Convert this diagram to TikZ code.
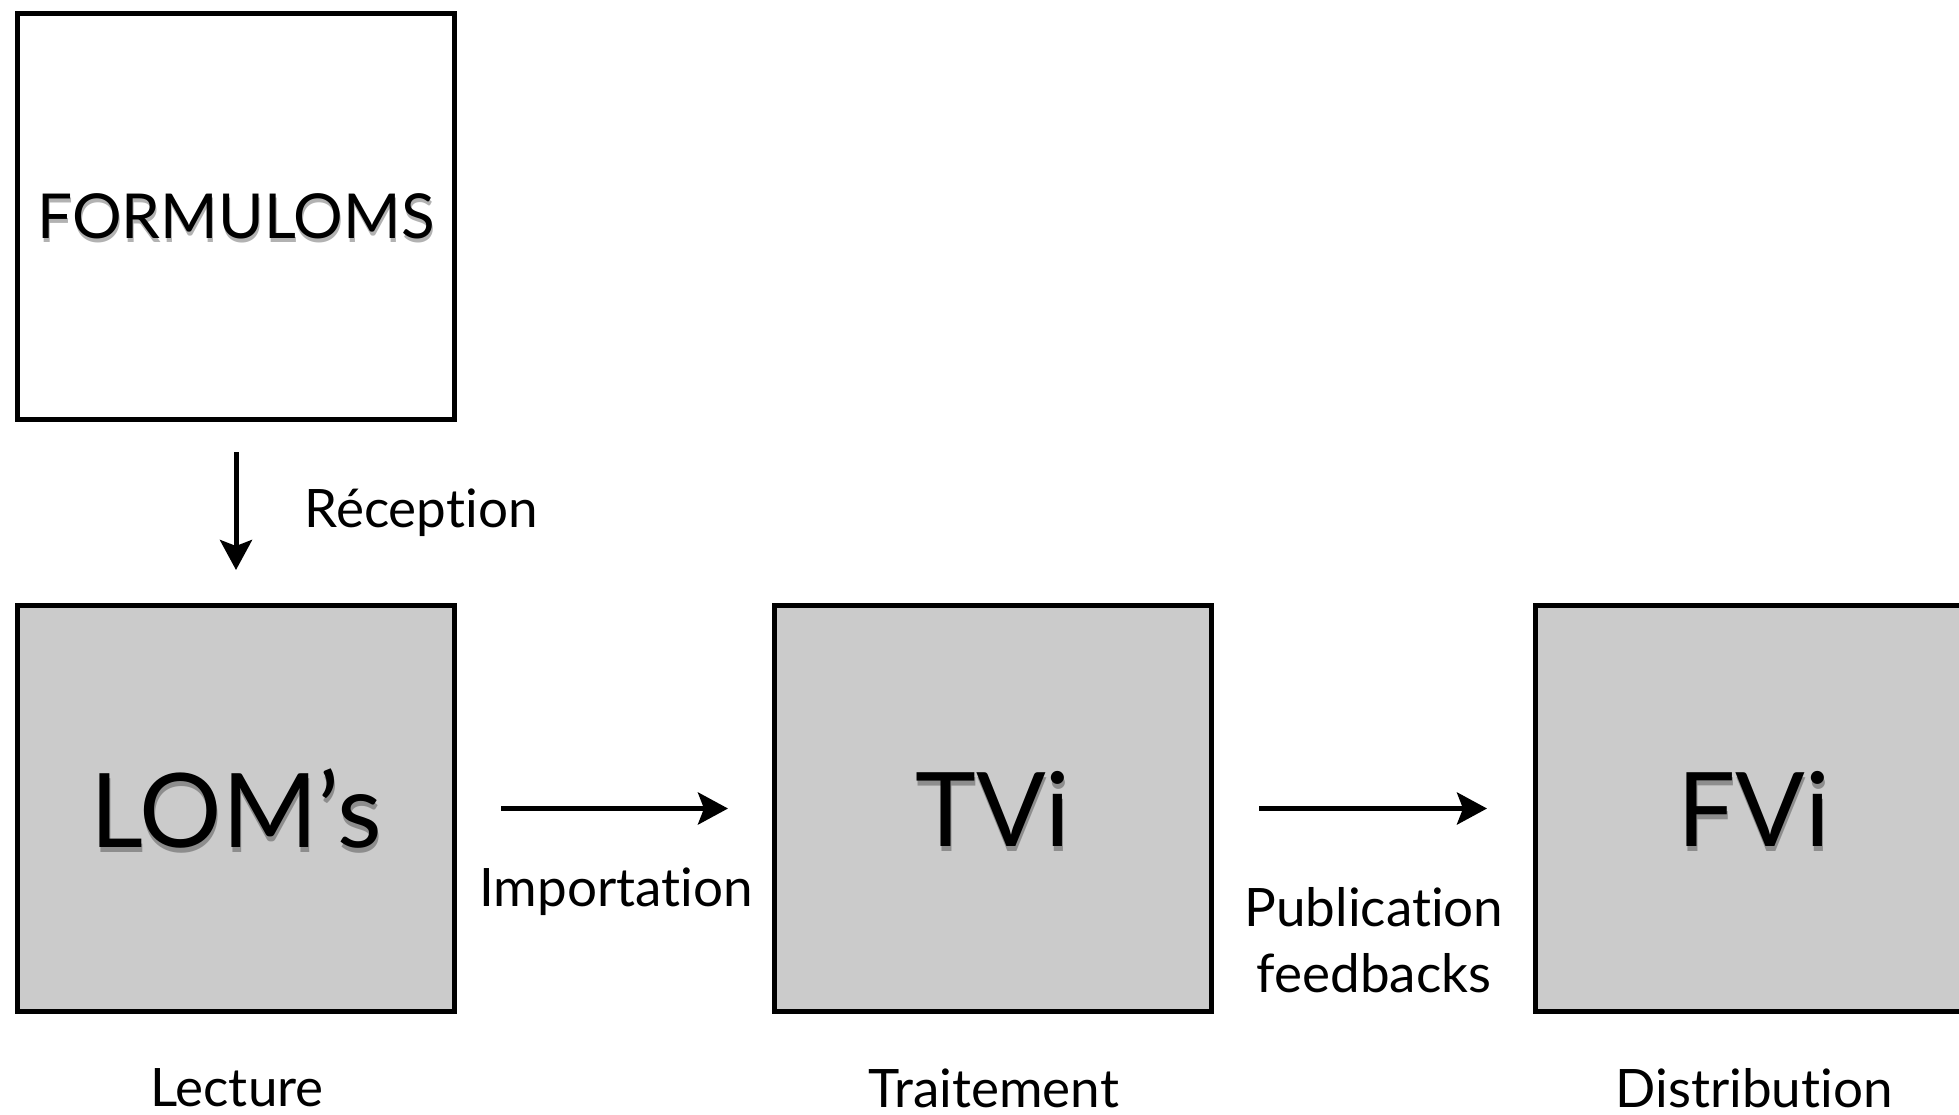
\documentclass[tikz,border=0pt]{standalone}
\usepackage{fontspec}
\setmainfont{Lato}[Ligatures={NoCommon}]
\usetikzlibrary{arrows.meta,calc}
\definecolor{boxgray}{RGB}{203,203,203}
\begin{document}
\begin{tikzpicture}[x=1pt,y=-1pt,
  box/.style={draw=black, line width=5pt, minimum width=437pt, minimum height=406pt, inner sep=0pt},
  graybox/.style={box, fill=boxgray},
  bigtxt/.style={font=\fontsize{103}{110}\selectfont, inner sep=0pt},
  midtxt/.style={font=\fontsize{62}{70}\selectfont, inner sep=0pt},
  lbl/.style={font=\fontsize{53}{66}\selectfont, inner sep=0pt, align=center},
  arr/.style={line width=5pt, -{Stealth[length=30pt,width=32pt,inset=6pt]}},
  shd/.style={text=black, opacity=0.3}
]
\useasboundingbox (0,0) rectangle (1959,1115);
% boxes
\node[box, fill=white] (form) at (236,216.5) {};
\node[graybox] (lom) at (236,808.5) {};
\node[graybox] (tvi) at (993,808.5) {};
\node[graybox] (fvi) at (1754,808.5) {};
% soft shadows of the box labels
\node[midtxt, shd] (sform) at ([shift={(1pt,-4pt)}]form.center) {FORMULOMS};
\node[bigtxt, shd] (slom) at ([shift={(1pt,-5pt)}]lom.center) {LOM’s};
\node[bigtxt, shd] (stvi) at ([shift={(1pt,-5pt)}]tvi.center) {TVi};
\node[bigtxt, shd] (sfvi) at ([shift={(1pt,-5pt)}]fvi.center) {FVi};
% box labels
\node[midtxt] (formt) at (form.center) {FORMULOMS};
\node[bigtxt] (lomt) at (lom.center) {LOM’s};
\node[bigtxt] (tvit) at (tvi.center) {TVi};
\node[bigtxt] (fvit) at (fvi.center) {FVi};
% arrows
\draw[arr] ([yshift=-30pt]form.south) -- ([yshift=33pt]lom.north);
\draw[arr, shorten <=44pt, shorten >=44pt] (lom.east) -- (tvi.west);
\draw[arr, shorten <=45pt, shorten >=46pt] (tvi.east) -- (fvi.west);
% arrow labels
\node[lbl] (rec) at (421,513) {Réception};
\node[lbl] (imp) at (616,892) {Importation};
\node[lbl] (pub) at (1374,940) {Publication\\feedbacks};
% step labels
\node[lbl] (lec) at (237,1088) {Lecture};
\node[lbl] (tra) at (994,1088) {Traitement};
\node[lbl] (dis) at (1754,1088) {Distribution};
\end{tikzpicture}
\end{document}
